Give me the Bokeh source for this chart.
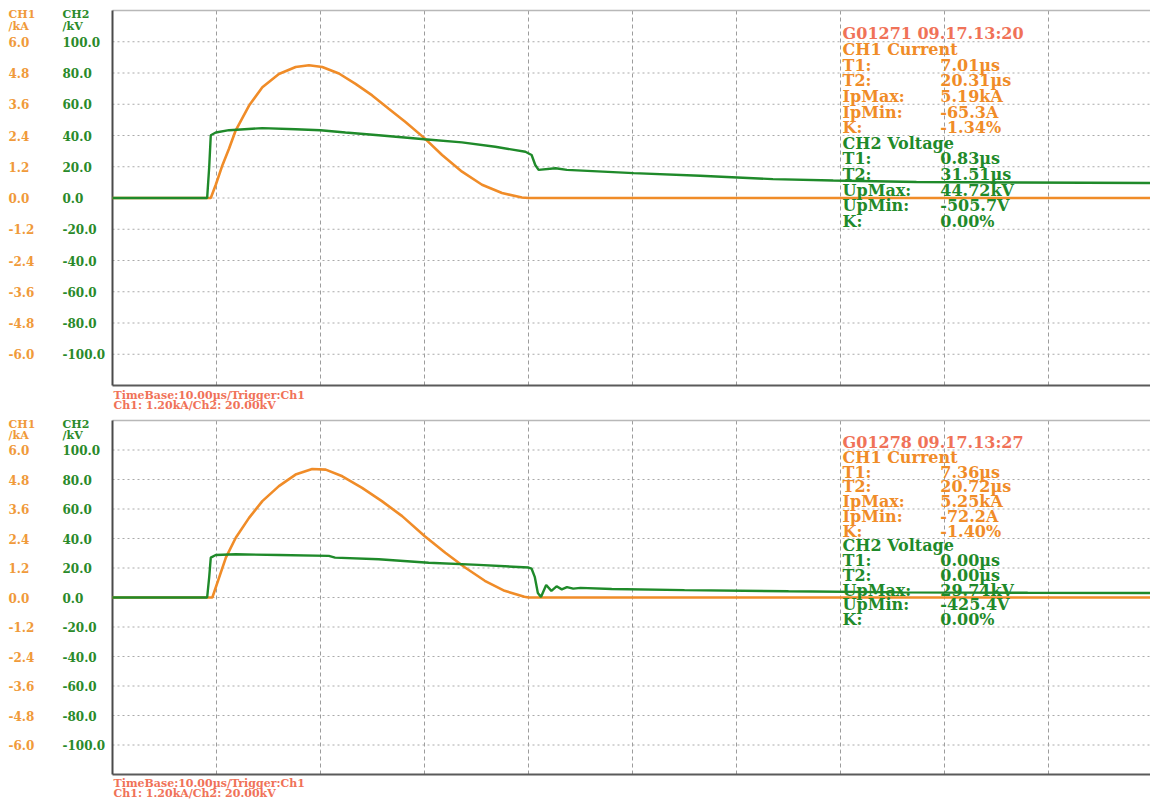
from bokeh.plotting import figure
from bokeh.models import Range1d, Label, LabelSet, ColumnDataSource
from bokeh.layouts import column
from bokeh.embed import file_html
from bokeh.resources import INLINE
from bokeh.core.properties import value

# ---------------- data ----------------
time_ticks = [0, 10, 20, 30, 40, 50, 60, 70, 80, 90, 100]          # µs, 10 µs/div
ch1_ticks = [6.0, 4.8, 3.6, 2.4, 1.2, 0.0, -1.2, -2.4, -3.6, -4.8, -6.0]   # kA, 1.2 kA/div
ch1_tick_labels = ["6.0", "4.8", "3.6", "2.4", "1.2", "0.0", "-1.2", "-2.4", "-3.6", "-4.8", "-6.0"]
ch2_ticks = [100, 80, 60, 40, 20, 0, -20, -40, -60, -80, -100]      # kV, 20 kV/div
ch2_tick_labels = ["100.0", "80.0", "60.0", "40.0", "20.0", "0.0", "-20.0", "-40.0", "-60.0", "-80.0", "-100.0"]

# upper record : CH1 current (kA)
top_ch1_t = [0, 9.45, 9.93, 10.58, 11.21, 11.85, 13.13, 14.41, 16.0, 17.61, 18.89, 20.17, 21.77,
             23.37, 24.97, 26.56, 28.17, 30.02, 31.69, 33.61, 35.53, 37.45, 39.37, 40.0, 100]
top_ch1_kA = [0, 0.0, 0.51, 1.27, 1.90, 2.60, 3.55, 4.25, 4.76, 5.03, 5.10, 5.03, 4.78,
              4.38, 3.94, 3.43, 2.92, 2.29, 1.65, 1.01, 0.51, 0.19, 0.02, 0.0, 0.0]
# upper record : CH2 voltage (kV)
top_ch2_t = [0, 9.1, 9.3, 9.45, 9.93, 11.2, 14.4, 17.6, 20.0, 22.4, 25.6, 30.0, 33.6, 36.8,
             39.7, 40.3, 40.65, 40.97, 42.6, 43.7, 50.1, 56.5, 63.5, 69.3, 77.3, 87.2, 100]
top_ch2_kV = [0, 0, 20.0, 40.2, 41.9, 43.4, 44.7, 44.0, 43.4, 41.9, 40.2, 37.6, 35.6, 32.8,
              29.6, 27.5, 21.1, 18.0, 19.0, 18.0, 15.9, 14.2, 12.1, 11.2, 10.2, 9.9, 9.6]

# lower record : CH1 current (kA)
bot_ch1_t = [0, 9.6, 10.25, 10.9, 11.85, 13.13, 14.41, 16.0, 17.6, 19.2, 20.5, 22.1, 24.0,
             25.9, 27.85, 30.0, 32.0, 33.9, 35.8, 37.7, 39.6, 40.0, 100]
bot_ch1_kA = [0, 0, 0.81, 1.62, 2.43, 3.24, 3.92, 4.53, 5.0, 5.23, 5.20, 4.93, 4.46,
              3.92, 3.31, 2.50, 1.82, 1.22, 0.68, 0.27, 0.03, 0, 0]
# lower record : CH2 voltage (kV)
bot_ch2_t = [0, 9.1, 9.3, 9.45, 9.93, 11.85, 16.0, 20.8, 21.4, 25.6, 30.4, 35.2, 40.0, 40.3,
             40.6, 40.9, 41.2, 41.7, 42.2, 42.7, 43.2, 43.7, 44.3, 45.0, 48.0, 55.0, 65.0,
             76.0, 88.0, 100]
bot_ch2_kV = [0, 0, 14.0, 27.0, 28.8, 29.3, 28.8, 28.2, 27.0, 25.9, 23.6, 22.1, 20.3, 19.5,
              14.0, 3.0, 0.3, 8.5, 4.5, 7.6, 5.5, 7.0, 6.0, 6.5, 5.8, 5.0, 4.2,
              3.5, 3.2, 3.0]

top_info_labels = ["G01271  09.17.13:20", "CH1 Current", "T1:", "T2:", "IpMax:", "IpMin:", "K:",
                   "CH2 Voltage", "T1:", "T2:", "UpMax:", "UpMin:", "K:"]
top_info_values = ["", "", "7.01µs", "20.31µs", "5.19kA", "-65.3A", "-1.34%",
                   "", "0.83µs", "31.51µs", "44.72kV", "-505.7V", "0.00%"]
bot_info_labels = ["G01278  09.17.13:27", "CH1 Current", "T1:", "T2:", "IpMax:", "IpMin:", "K:",
                   "CH2 Voltage", "T1:", "T2:", "UpMax:", "UpMin:", "K:"]
bot_info_values = ["", "", "7.36µs", "20.72µs", "5.25kA", "-72.2A", "-1.40%",
                   "", "0.00µs", "0.00µs", "29.74kV", "-425.4V", "0.00%"]

footer_line1 = "TimeBase:10.00µs/Trigger:Ch1"
footer_line2 = "Ch1:   1.20kA/Ch2:   20.00kV"

# ---------------- style / geometry ----------------
FONT = "DejaVu Serif"
ORANGE = "#f08c28"
GREEN = "#1f8a2a"
TICK_ORANGE = "#f09a3a"
TICK_GREEN = "#2a8a2a"
SALMON = "#f07258"
INFO_COLORS = [SALMON] + [ORANGE] * 6 + [GREEN] * 6

W = 1150
FRAME_LEFT_PX = 112
PX_PER_US = 10.4
Y_HALF = 7.2            # screen is +-6 divisions of 1.2 kA
KV_PER_KA = 20.0 / 1.2


def make_panel(height, frame_top_px, frame_bot_px, t1, i1, t2, u2, labels, values):
    upx = (frame_bot_px - frame_top_px) / (2 * Y_HALF)
    x_lo = -FRAME_LEFT_PX / PX_PER_US
    x_hi = (W - FRAME_LEFT_PX) / PX_PER_US
    y_hi = Y_HALF + frame_top_px / upx
    y_lo = -Y_HALF - (height - frame_bot_px) / upx

    p = figure(width=W, height=height, output_backend="svg", toolbar_location=None,
               x_range=Range1d(x_lo, x_hi), y_range=Range1d(y_lo, y_hi),
               x_axis_type=None, y_axis_type=None,
               min_border=0, background_fill_color="white", border_fill_color="white",
               outline_line_color=None)
    p.extra_y_ranges = {"kv": Range1d(y_lo * KV_PER_KA, y_hi * KV_PER_KA)}

    t_lo, t_hi = time_ticks[0], time_ticks[-1]
    vt = time_ticks[1:-1]
    # graticule (drawn from the tick arrays)
    p.segment(x0=vt, y0=[-Y_HALF] * len(vt), x1=vt, y1=[Y_HALF] * len(vt),
              line_color="#9c9c9c", line_dash="4 3", line_width=1)
    p.segment(x0=[t_lo] * len(ch1_ticks), y0=ch1_ticks, x1=[t_hi] * len(ch1_ticks), y1=ch1_ticks,
              line_color="#aaaaaa", line_dash="2 3", line_width=1)
    # screen frame
    p.segment(x0=[t_lo], y0=[Y_HALF], x1=[t_hi], y1=[Y_HALF], line_color="#b8b8b8", line_width=1.5)
    p.segment(x0=[t_lo], y0=[-Y_HALF], x1=[t_hi], y1=[-Y_HALF], line_color="#5a5a5a", line_width=2)
    p.segment(x0=[t_lo], y0=[-Y_HALF], x1=[t_lo], y1=[Y_HALF], line_color="#4a4a4a", line_width=2)

    p.line(t1, i1, line_color=ORANGE, line_width=2.6)
    p.line(t2, u2, line_color=GREEN, line_width=2.4, y_range_name="kv")

    # dual-scale tick labels
    s1 = ColumnDataSource(dict(y=ch1_ticks, text=ch1_tick_labels))
    p.add_layout(LabelSet(x=8, y="y", text="text", x_units="screen", source=s1,
                          text_font=value(FONT), text_font_size="12px", text_font_style="bold",
                          text_color=TICK_ORANGE, text_align="left", text_baseline="middle"))
    s2 = ColumnDataSource(dict(y=ch2_ticks, text=ch2_tick_labels))
    p.add_layout(LabelSet(x=62, y="y", text="text", x_units="screen", source=s2,
                          y_range_name="kv",
                          text_font=value(FONT), text_font_size="12px", text_font_style="bold",
                          text_color=TICK_GREEN, text_align="left", text_baseline="middle"))
    for txt, yy, xx, col in [("CH1", 7.04, 8, TICK_ORANGE), ("/kA", 6.6, 8, TICK_ORANGE),
                             ("CH2", 7.04, 62, TICK_GREEN), ("/kV", 6.6, 62, TICK_GREEN)]:
        p.add_layout(Label(x=xx, y=yy, x_units="screen", text=txt, text_font=FONT,
                           text_font_size="11px", text_font_style="bold", text_color=col,
                           text_align="left", text_baseline="middle"))

    # measurement read-out
    ys = [6.3 - 0.6 * k for k in range(len(labels))]
    s3 = ColumnDataSource(dict(y=ys, text=labels, color=INFO_COLORS))
    p.add_layout(LabelSet(x=70.2, y="y", text="text", source=s3, text_color="color",
                          text_font=value(FONT), text_font_size="16px", text_font_style="bold",
                          text_align="left", text_baseline="middle"))
    s4 = ColumnDataSource(dict(y=ys, text=values, color=INFO_COLORS))
    p.add_layout(LabelSet(x=79.6, y="y", text="text", source=s4, text_color="color",
                          text_font=value(FONT), text_font_size="16px", text_font_style="bold",
                          text_align="left", text_baseline="middle"))

    # footer under the screen
    for txt, yy in [(footer_line1, -Y_HALF - 0.38), (footer_line2, -Y_HALF - 0.77)]:
        p.add_layout(Label(x=0.1, y=yy, text=txt, text_font=FONT,
                           text_font_size="11px", text_font_style="bold", text_color=SALMON,
                           text_align="left", text_baseline="middle"))
    return p


p_top = make_panel(412, 10, 385, top_ch1_t, top_ch1_kA, top_ch2_t, top_ch2_kV,
                   top_info_labels, top_info_values)
p_bot = make_panel(387, 8, 362, bot_ch1_t, bot_ch1_kA, bot_ch2_t, bot_ch2_kV,
                   bot_info_labels, bot_info_values)

layout = column(p_top, p_bot)
open("out.html", "w").write(file_html(layout, INLINE))
